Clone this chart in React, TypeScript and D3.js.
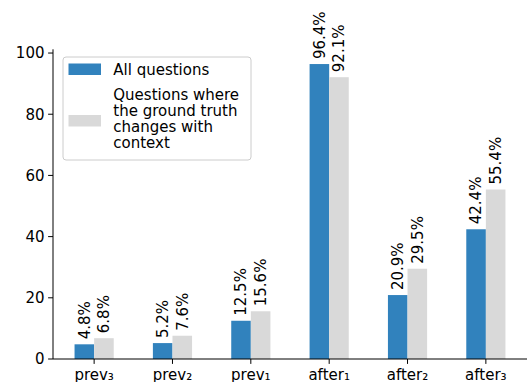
import React from "react";
import * as d3 from "d3";

const categories = ["prev₃", "prev₂", "prev₁", "after₁", "after₂", "after₃"];
const allQuestions = [4.8, 5.2, 12.5, 96.4, 20.9, 42.4];
const changesWithContext = [6.8, 7.6, 15.6, 92.1, 29.5, 55.4];
const yTicks = [0, 20, 40, 60, 80, 100];
const seriesNames = ["All questions", "Questions where the ground truth changes with context"];
const legendLines = [["All questions"], ["Questions where", "the ground truth", "changes with", "context"]];

const W = 531;
const H = 382;
const FONT = "DejaVu Sans, sans-serif";
const FS = 15;
const BLUE = "#3182bd";
const GRAY = "#d9d9d9";

export default function App() {
  const left = 53;
  const right = 527;
  const top = 49.3;
  const bottom = 359;
  const barW = 0.25;

  const x = d3.scaleLinear().domain([-0.525, 5.525]).range([left, right]);
  const y = d3.scaleLinear().domain([0, 101.22]).range([bottom, top]);

  const series = [
    { name: seriesNames[0], values: allQuestions, color: BLUE, offset: -barW / 2 },
    { name: seriesNames[1], values: changesWithContext, color: GRAY, offset: barW / 2 },
  ];

  const bw = x(barW) - x(0);

  return (
    <svg
      width={W}
      height={H}
      style={{ position: "absolute", left: 0, top: 0, display: "block" }}
      fontFamily={FONT}
    >
      <rect x={0} y={0} width={W} height={H} fill="white" />
      {series.map((s) =>
        s.values.map((v, i) => {
          const cx = x(i + s.offset);
          return (
            <g key={s.name + i}>
              <rect x={cx - bw / 2} y={y(v)} width={bw} height={y(0) - y(v)} fill={s.color} />
              <text
                transform={`translate(${cx + 5.4},${y(v) - 5})rotate(-90)`}
                fontSize={FS}
                fill="#000"
              >
                {v.toFixed(1)}%
              </text>
            </g>
          );
        })
      )}
      {/* y axis */}
      <line x1={left} x2={left} y1={top} y2={bottom} stroke="#000" strokeWidth={1} />
      {yTicks.map((t) => (
        <g key={t}>
          <line x1={left - 4.9} x2={left} y1={y(t)} y2={y(t)} stroke="#000" strokeWidth={1} />
          <text x={left - 8.5} y={y(t)} dy="0.36em" textAnchor="end" fontSize={FS} fill="#000">
            {t}
          </text>
        </g>
      ))}
      {/* x axis */}
      <line x1={left} x2={right} y1={bottom} y2={bottom} stroke="#000" strokeWidth={1} />
      {categories.map((c, i) => (
        <g key={c}>
          <line x1={x(i)} x2={x(i)} y1={bottom} y2={bottom + 4.9} stroke="#000" strokeWidth={1} />
          <text x={x(i)} y={bottom + 9.5} dy="0.76em" textAnchor="middle" fontSize={FS} fill="#000">
            {c}
          </text>
        </g>
      ))}
      {/* legend */}
      <g>
        <rect x={63} y={57} width={188} height={103} rx={3} fill="white" fillOpacity={0.8} stroke="#cccccc" strokeWidth={1} />
        <rect x={68.5} y={63.5} width={32.5} height={11.5} fill={BLUE} />
        <text x={113.3} y={75} fontSize={FS} fill="#000">{legendLines[0][0]}</text>
        <rect x={68.5} y={115} width={32.5} height={11.5} fill={GRAY} />
        {legendLines[1].map((l, k) => (
          <text key={k} x={113.3} y={99.5 + k * 16.3} fontSize={FS} fill="#000">{l}</text>
        ))}
      </g>
    </svg>
  );
}
